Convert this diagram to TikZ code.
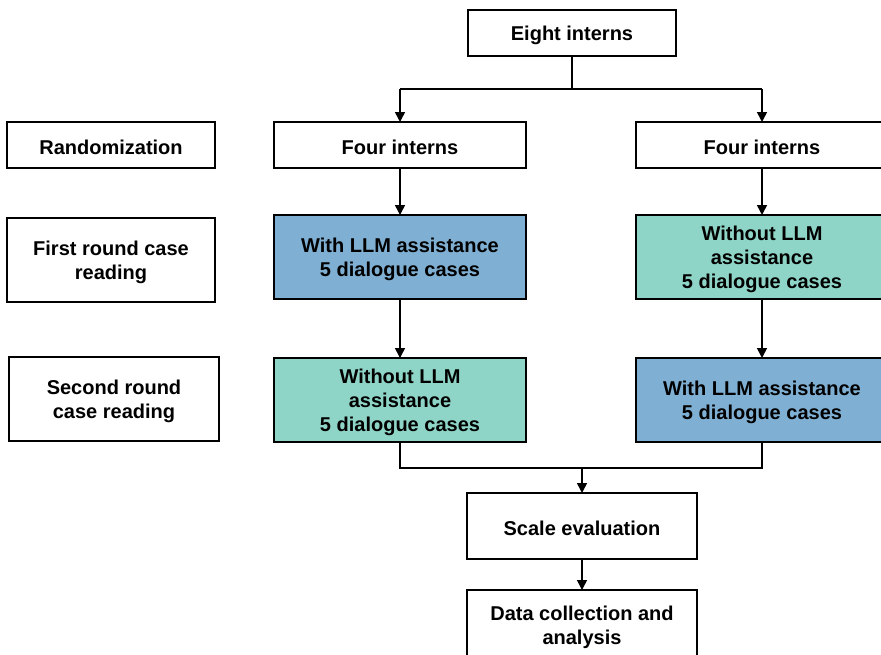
\documentclass[tikz,border=0pt]{standalone}
\usepackage{fontspec}
\setmainfont{Liberation Sans}
\usetikzlibrary{arrows.meta}
\definecolor{boxblue}{RGB}{127,175,210}
\definecolor{boxgreen}{RGB}{143,213,199}
\newcommand\lw[1]{\raisebox{-2.5pt}[\height][\depth]{#1}}
\tikzset{
  box/.style={draw=black, line width=1.6pt, inner sep=0pt, outer sep=0pt, align=center,
    font=\fontsize{20}{24}\selectfont\bfseries, fill=white},
  bluebox/.style={box, fill=boxblue},
  greenbox/.style={box, fill=boxgreen},
  conn/.style={draw=black, line width=1.6pt},
  arr/.style={conn, -{Triangle[length=10pt,width=10pt]}}
}
\begin{document}
\begin{tikzpicture}[x=1pt,y=-1pt]
\clip (0,0) rectangle (881,654);
\fill[white] (0,0) rectangle (881,654);
\node[box, minimum width=208pt, minimum height=46pt] (eight) at (572,33) {\lw{Eight interns}};
\node[box, minimum width=208pt, minimum height=46pt] (rand) at (111,145) {\lw{Randomization}};
\node[box, minimum width=252pt, minimum height=46pt] (four1) at (400,145) {\lw{Four interns}};
\node[box, minimum width=252pt, minimum height=46pt] (four2) at (762,145) {\lw{Four interns}};
\node[box, minimum width=208pt, minimum height=84pt] (first) at (111,260) {\lw{First round case}\\\lw{reading}};
\node[bluebox, minimum width=252pt, minimum height=84pt] (b1) at (400,257) {\lw{With LLM assistance}\\\lw{5 dialogue cases}};
\node[greenbox, minimum width=252pt, minimum height=84pt] (g1) at (762,257) {\lw{Without LLM}\\\lw{assistance}\\\lw{5 dialogue cases}};
\node[box, minimum width=210pt, minimum height=84pt] (second) at (114,399) {\lw{Second round}\\\lw{case reading}};
\node[greenbox, minimum width=252pt, minimum height=84pt] (g2) at (400,400) {\lw{Without LLM}\\\lw{assistance}\\\lw{5 dialogue cases}};
\node[bluebox, minimum width=252pt, minimum height=84pt] (b2) at (762,400) {\lw{With LLM assistance}\\\lw{5 dialogue cases}};
\node[box, minimum width=230pt, minimum height=66pt] (scale) at (582,526) {\lw{Scale evaluation}};
\node[box, minimum width=230pt, minimum height=70pt] (data) at (582,625) {\lw{Data collection and}\\\lw{analysis}};
\coordinate (split) at (572,89);
\coordinate (merge) at (582,468);
\draw[conn] (eight.south) -- (split);
\draw[conn] (four1.north |- split) -- (four2.north |- split);
\draw[arr] (four1.north |- split) -- (four1.north);
\draw[arr] (four2.north |- split) -- (four2.north);
\draw[arr] (four1.south) -- (b1.north);
\draw[arr] (four2.south) -- (g1.north);
\draw[arr] (b1.south) -- (g2.north);
\draw[arr] (g1.south) -- (b2.north);
\draw[conn] (g2.south) -- (g2.south |- merge) -- (b2.south |- merge) -- (b2.south);
\draw[arr] (merge) -- (scale.north);
\draw[arr] (scale.south) -- (data.north);
\end{tikzpicture}
\end{document}
